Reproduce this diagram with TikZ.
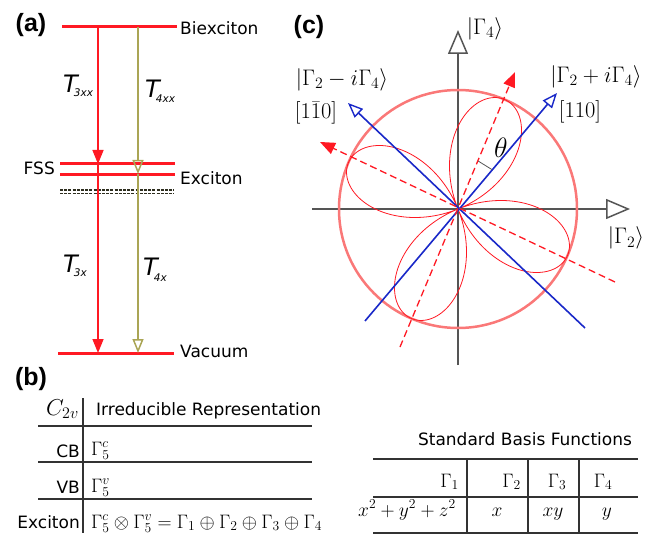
\RequirePackage{fix-cm}
\documentclass[tikz,border=0pt]{standalone}
\usepackage[no-math]{fontspec}
\setmainfont{DejaVu Sans}
\newfontfamily\lblfont{Liberation Sans}
\usetikzlibrary{arrows.meta}
\definecolor{lvred}{RGB}{255,25,35}
\definecolor{olv}{RGB}{170,165,85}
\definecolor{dsh}{RGB}{45,45,30}
\definecolor{axg}{RGB}{85,85,85}
\definecolor{circc}{RGB}{250,120,120}
\definecolor{blu}{RGB}{25,40,200}
\definecolor{tbl}{RGB}{50,50,50}
\newcommand\Tf{\fontsize{24}{24}\selectfont\itshape}
\newcommand\Sf{\fontsize{10.5}{12}\selectfont\itshape}
\tikzset{
  level/.style={lvred, line width=3pt},
  redarr/.style={lvred, line width=1.5pt, -{Triangle[length=14pt,width=11pt]}},
  olvarr/.style={olv, line width=1.5pt, -{Triangle[open,length=14pt,width=11pt]}},
  dashlvl/.style={dsh, line width=1.3pt, dash pattern=on 3pt off 1.2pt},
  txt/.style={font=\fontsize{17}{20}\selectfont, inner sep=0pt},
  panel/.style={font=\lblfont\bfseries\fontsize{25}{30}\selectfont, inner sep=0pt},
  tlab/.style={inner sep=0pt, anchor=base west},
  axis/.style={axg, line width=2pt, -{Triangle[open,length=24pt,width=20pt,line width=1.5pt]}},
  bluarr/.style={blu, line width=1.6pt, -{Triangle[open,length=15pt,width=12pt,line width=1.4pt]}},
  reddash/.style={lvred, line width=1.3pt, dash pattern=on 7pt off 4pt, -{Triangle[length=15pt,width=12pt]}},
  lobe/.style={lvred, line width=0.8pt},
  clab/.style={inner sep=0pt, font=\fontsize{22.5}{26}\selectfont},
  tline/.style={tbl, line width=1.3pt},
  mtab/.style={inner sep=0pt, font=\fontsize{19.5}{23}\selectfont},
}
\begin{document}
\begin{tikzpicture}[x=1pt,y=-1pt]
\useasboundingbox (0,0) rectangle (657,535);
% ---------------- panel (a)
\node[panel] (pa) at (31,25) {(a)};
\coordinate (bxL) at (62,27);  \coordinate (bxR) at (177,27);
\coordinate (f1L) at (60,164); \coordinate (f1R) at (175,164);
\coordinate (f2L) at (60,174); \coordinate (f2R) at (175,174);
\coordinate (d1L) at (60,190); \coordinate (d1R) at (174,190);
\coordinate (d2L) at (60,193.5); \coordinate (d2R) at (174,193.5);
\coordinate (vaL) at (58,353); \coordinate (vaR) at (174,353);
\draw[level] (bxL) -- (bxR);
\draw[level] (f1L) -- (f1R);
\draw[level] (f2L) -- (f2R);
\draw[dashlvl] (d1L) -- (d1R);
\draw[dashlvl] (d2L) -- (d2R);
\draw[level] (vaL) -- (vaR);
\coordinate (r1s) at (98,27);  \coordinate (r1e) at (98,164);
\coordinate (o1s) at (138,27); \coordinate (o1e) at (138,174);
\coordinate (r2s) at (98,164); \coordinate (r2e) at (98,353);
\coordinate (o2s) at (138,174); \coordinate (o2e) at (138,353);
\draw[redarr] (r1s) -- (r1e);
\draw[olvarr] (o1s) -- (o1e);
\draw[redarr] (r2s) -- (r2e);
\draw[olvarr] (o2s) -- (o2e);
\node[txt, anchor=base west] (bx) at (180,35) {Biexciton};
\node[txt, anchor=base west] (ex) at (180,185) {Exciton};
\node[txt, anchor=base east] (fss) at (55,175) {FSS};
\node[txt, anchor=base west] (vac) at (180,357) {Vacuum};
\node[tlab] (t3xx) at (63,93) {\Tf T\kern-4pt\raisebox{-4pt}{\Sf 3xx}};
\node[tlab] (t4xx) at (145,98) {\Tf T\kern-4pt\raisebox{-5pt}{\Sf 4xx}};
\node[tlab] (t3x) at (63,272) {\Tf T\kern-4pt\raisebox{-5pt}{\Sf 3x}};
\node[tlab] (t4x) at (143,275) {\Tf T\kern-4pt\raisebox{-6pt}{\Sf 4x}};
% ---------------- panel (c)
\node[panel] (pc) at (309,27) {(c)};
\begin{scope}[shift={(458,209)}, x=1pt, y=1pt]
  \coordinate (O) at (0,0);
  \coordinate (vb) at (0,-156); \coordinate (vt) at (0,179);
  \coordinate (hl) at (-146,0); \coordinate (hr) at (172,0);
  \draw[axis] (vb) -- (vt);
  \draw[axis] (hl) -- (hr);
  \draw[circc, line width=2.5pt] (O) circle[radius=119];
  \draw[lobe] plot[domain=0:360, samples=361, variable=\t] (\t:{119*abs(cos(2*(\t-67)))});
  \coordinate (b1s) at (-93,-112); \coordinate (b1e) at (99,116);
  \coordinate (b2s) at (127,-119); \coordinate (b2e) at (-110,106);
  \draw[bluarr] (b1s) -- (b1e);
  \draw[bluarr] (b2s) -- (b2e);
  \coordinate (r1a) at (-58,-138); \coordinate (r1b) at (57,137);
  \coordinate (r2a) at (157,-73); \coordinate (r2b) at (-138,67);
  \draw[reddash] (r1a) -- (r1b);
  \draw[reddash] (r2a) -- (r2b);
  \coordinate (ch1) at (67:52); \coordinate (ch2) at (49.5:52);
  \draw[axg, line width=0.8pt] (ch1) -- (ch2);
  \node[clab] (g4) at (27,180) {$|\Gamma_4\rangle$};
  \node[clab] (g2) at (168,-29) {$|\Gamma_2\rangle$};
  \node[clab] (gm) at (-116,129) {$|\Gamma_2 - i\Gamma_4\rangle$};
  \node[clab] (m110) at (-142,96) {$[1\bar{1}0]$};
  \node[clab] (gp) at (138,132) {$|\Gamma_2 + i\Gamma_4\rangle$};
  \node[clab] (p110) at (122,97) {$[110]$};
  \node[inner sep=0pt, font=\fontsize{28}{30}\selectfont] (th) at (43,61) {$\theta$};
\end{scope}
% ---------------- panel (b)
\node[panel] (pb) at (31,379) {(b)};
\coordinate (h1L) at (38,426); \coordinate (h1R) at (312,426);
\coordinate (h2L) at (38,462); \coordinate (h2R) at (312,462);
\coordinate (h3L) at (38,499); \coordinate (h3R) at (312,499);
\coordinate (v1T) at (83,398); \coordinate (v1B) at (83,533);
\draw[tline] (h1L) -- (h1R);
\draw[tline] (h2L) -- (h2R);
\draw[tline] (h3L) -- (h3R);
\draw[tline] (v1T) -- (v1B);
\node[inner sep=0pt, anchor=base east, font=\fontsize{23}{26}\selectfont] (c2v) at (79,415) {$C_{2v}$};
\node[txt, anchor=base west] (irr) at (96,415) {Irreducible Representation};
\node[txt, anchor=base east] (cb) at (80,457) {CB};
\node[txt, anchor=base east] (vb2) at (80,493) {VB};
\node[txt, anchor=base east] (exb) at (80,528) {Exciton};
\node[mtab, anchor=base west] (g5c) at (91,455) {$\Gamma_5^c$};
\node[mtab, anchor=base west] (g5v) at (91,492) {$\Gamma_5^v$};
\node[mtab, anchor=base west] (prod) at (91,528) {$\Gamma_5^c\otimes\Gamma_5^v=\Gamma_1\oplus\Gamma_2\oplus\Gamma_3\oplus\Gamma_4$};
% ---------------- basis table
\node[txt, anchor=base] (sbf) at (525,445) {Standard Basis Functions};
\coordinate (k1L) at (373,459); \coordinate (k1R) at (638,459);
\coordinate (k2L) at (373,497); \coordinate (k2R) at (638,497);
\coordinate (k3L) at (373,533); \coordinate (k3R) at (638,533);
\draw[tline] (k1L) -- (k1R);
\draw[tline] (k2L) -- (k2R);
\draw[tline] (k3L) -- (k3R);
\coordinate (u1T) at (467,459); \coordinate (u1B) at (467,533);
\coordinate (u2T) at (528,459); \coordinate (u2B) at (528,533);
\coordinate (u3T) at (579,459); \coordinate (u3B) at (579,533);
\draw[tline] (u1T) -- (u1B);
\draw[tline] (u2T) -- (u2B);
\draw[tline] (u3T) -- (u3B);
\node[mtab, anchor=base east] (G1) at (459,487) {$\Gamma_1$};
\node[mtab, anchor=base east] (G2) at (521,487) {$\Gamma_2$};
\node[mtab, anchor=base] (G3) at (557,487) {$\Gamma_3$};
\node[mtab, anchor=base] (G4) at (603,487) {$\Gamma_4$};
\node[mtab, anchor=base east] (f1) at (456,516) {$x^2+y^2+z^2$};
\node[mtab, anchor=base] (f2) at (497,516) {$x$};
\node[mtab, anchor=base] (f3) at (553,516) {$xy$};
\node[mtab, anchor=base] (f4) at (607,516) {$y$};
\end{tikzpicture}
\end{document}
